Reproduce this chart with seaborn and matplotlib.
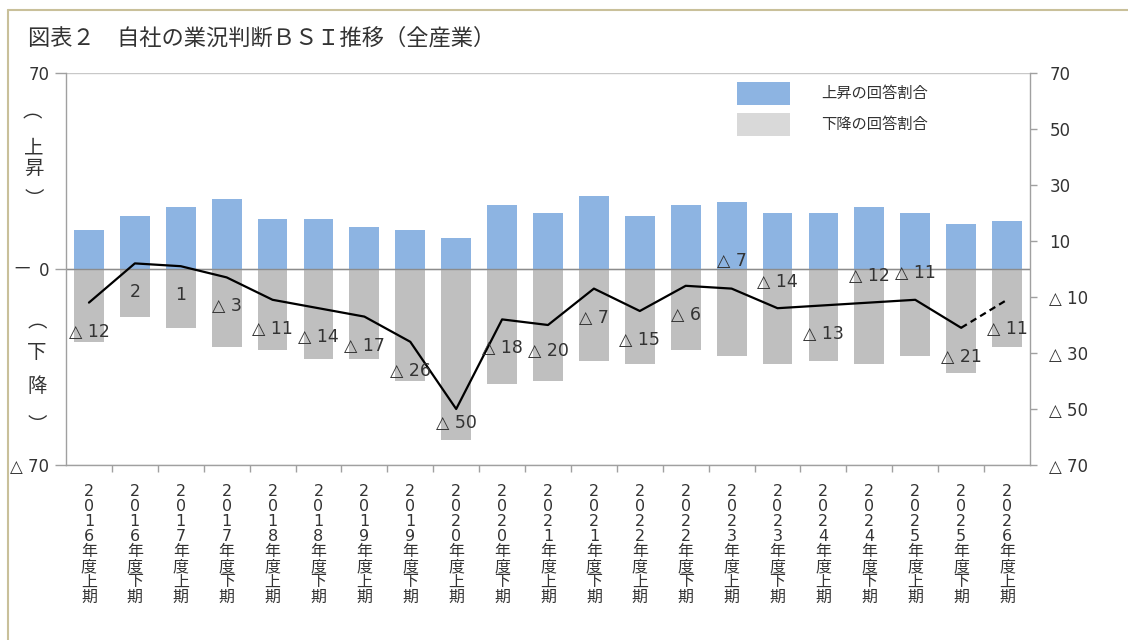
import numpy as np
import pandas as pd
import seaborn as sns
import matplotlib.pyplot as plt
from matplotlib.patches import Patch
from matplotlib.lines import Line2D

# data (share of answers, %)
periods = ["2016年度上期", "2016年度下期", "2017年度上期", "2017年度下期",
           "2018年度上期", "2018年度下期", "2019年度上期", "2019年度下期",
           "2020年度上期", "2020年度下期", "2021年度上期", "2021年度下期",
           "2022年度上期", "2022年度下期", "2023年度上期", "2023年度下期",
           "2024年度上期", "2024年度下期", "2025年度上期", "2025年度下期",
           "2026年度上期"]
up_share = [14, 19, 22, 25, 18, 18, 15, 14, 11, 23, 20, 26, 19, 23, 24, 20, 20, 22, 20, 16, 17]
down_share = [26, 17, 21, 28, 29, 32, 32, 40, 61, 41, 40, 33, 34, 29, 31, 34, 33, 34, 31, 37, 28]
bsi = [-12, 2, 1, -3, -11, -14, -17, -26, -50, -18, -20, -7, -15, -6, -7, -14, -13, -12, -11, -21, -11]

right_ticks = [70, 50, 30, 10, -10, -30, -50, -70]
legend_labels = ["上昇の回答割合", "下降の回答割合"]
title = "図表２　自社の業況判断ＢＳＩ推移（全産業）"

# where each BSI label sits relative to its point (pixels, + = above)
label_off_px = [-29, -29, -29, -29, -29, -29, -29, -29, -14, -29, -26,
                -29, -29, -29, 28, 26, -29, 27, 27, -29, -29]

BLUE = "#8db4e2"
GREY = "#bfbfbf"
TXT = "#333333"
AX = "#a0a0a0"

sns.set_theme(style="white")
plt.rcParams['font.family'] = ['DejaVu Sans', 'Noto Sans CJK JP']

W, H = 1128, 640
def fx(px):
    return px / W
def fy(py):
    return 1 - py / H

fig = plt.figure(figsize=(W / 100, H / 100), dpi=100)
ax = fig.add_axes([fx(66), fy(465), fx(1030) - fx(66), fy(73) - fy(465)])

df = pd.DataFrame({'period': periods, 'up': up_share,
                   'down': [-d for d in down_share], 'bsi': bsi})
pos = np.arange(len(periods))

sns.barplot(data=df, x='period', y='up', color=BLUE, width=0.65,
            saturation=1, linewidth=0, ax=ax)
sns.barplot(data=df, x='period', y='down', color=GREY, width=0.65,
            saturation=1, linewidth=0, ax=ax)

# BSI line, last half-year is a forecast -> dashed
sns.lineplot(x=pos[:-1], y=df['bsi'][:-1], color='black', linewidth=1.6, ax=ax)
sns.lineplot(x=pos[-2:], y=df['bsi'][-2:], color='black', linewidth=1.6,
             linestyle=(0, (3, 2)), ax=ax)

for i, v in enumerate(bsi):
    txt = f"△ {abs(v)}" if v < 0 else f"{v}"
    ax.annotate(txt, (pos[i], v), xytext=(0, label_off_px[i] * 0.72),
                textcoords='offset points', ha='center', va='center',
                fontsize=12.5, color=TXT)

ax.set_xlim(-0.5, len(periods) - 0.5)
ax.set_ylim(-70, 70)
ax.set_xlabel('')
ax.set_ylabel('')

# left axis: only 70 / 0 / △70 with gridlines
ax.set_yticks([-70, 0, 70])
ax.set_yticklabels(["△ 70", "0", "70"])
ax.yaxis.grid(True, color='#c8c8c8', linewidth=1)
ax.axhline(0, color='#8c8c8c', linewidth=1, zorder=1.5)
ax.tick_params(axis='y', direction='out', length=8, width=1, color=AX,
               labelsize=12, labelcolor=TXT, pad=4, left=True)

# x axis: stacked vertical labels, ticks between categories
ax.set_xticks(pos)
ax.set_xticklabels(["\n".join(p) for p in periods], linespacing=1.0,
                   fontsize=11.5, color=TXT, va='top')
ax.set_xticks(pos[:-1] + 0.5, minor=True)
ax.tick_params(axis='x', which='major', length=0, pad=14)
ax.tick_params(axis='x', which='minor', direction='out', length=5,
               width=1, color=AX, bottom=True)

for s in ['top', 'right']:
    ax.spines[s].set_visible(False)
for s in ['left', 'bottom']:
    ax.spines[s].set_color(AX)
    ax.spines[s].set_linewidth(1)

# right axis
ax2 = ax.twinx()
ax2.set_ylim(-70, 70)
ax2.set_yticks(right_ticks)
ax2.set_yticklabels([f"△ {abs(t)}" if t < 0 else f"{t}" for t in right_ticks])
ax2.tick_params(axis='y', direction='out', length=5, width=1, color=AX,
                labelsize=12, labelcolor=TXT, pad=9, right=True)
for s in ['top', 'left', 'bottom']:
    ax2.spines[s].set_visible(False)
ax2.spines['right'].set_color(AX)
ax2.spines['right'].set_linewidth(1)
ax2.grid(False)

# legend
handles = [Patch(facecolor=BLUE, edgecolor='none'),
           Patch(facecolor='#d9d9d9', edgecolor='none')]
ax.legend(handles, legend_labels, loc='upper left',
          bbox_to_anchor=(fx(737), fy(82)), bbox_transform=fig.transFigure,
          frameon=False, borderpad=0, borderaxespad=0, handlelength=3.5,
          handleheight=1.9, handletextpad=2.0, labelspacing=0.55,
          prop={'family': 'Noto Sans CJK JP', 'size': 11}, labelcolor=TXT)

# title
fig.text(fx(28), fy(38), title, fontsize=16, color=TXT, va='center',
         ha='left', family='Noto Sans CJK JP')

# vertical axis caption (上昇) － (下降)
caption = [("︵", 32, 112), ("上", 34, 148), ("昇", 34, 168), ("︶", 34, 200),
           ("－", 22, 269),
           ("︵", 37, 322), ("下", 37, 353), ("降", 37, 386), ("︶", 37, 425)]
for ch, px, py in caption:
    fig.text(fx(px), fy(py), ch, fontsize=14, color=TXT, ha='center',
             va='center', family='Noto Sans CJK JP')

# frame of the figure panel
fig.add_artist(Line2D([fx(8), 1], [fy(10), fy(10)], color='#c9c09a', lw=1.5))
fig.add_artist(Line2D([fx(8), fx(8)], [0, fy(10)], color='#c9c09a', lw=1.5))

fig.savefig('out.png', dpi=100)
